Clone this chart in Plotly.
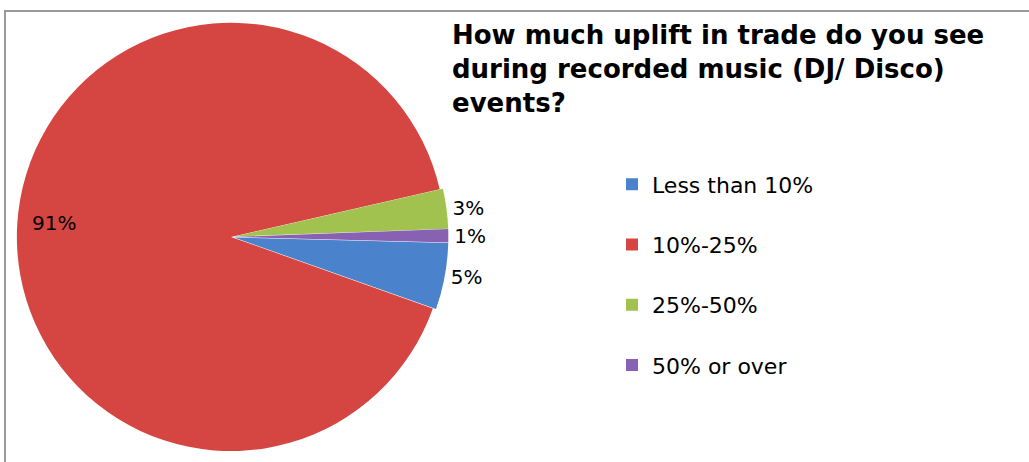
import math
import plotly.graph_objects as go

# survey answers (share of respondents, %)
labels = ["Less than 10%", "10%-25%", "25%-50%", "50% or over"]
values = [5, 91, 3, 1]
colors = ["#4A82CB", "#D54642", "#A2C250", "#8961B2"]
title_text = "How much uplift in trade do you see<br>during recorded music (DJ/ Disco)<br>events?"

W, H = 1029, 462
FONT = "DejaVu Sans, Verdana, sans-serif"

# pie placement (pixels from the top-left corner)
cx, cy, r = 231, 239, 216
pull = [0.015, 0, 0.015, 0.015]
half = r * (1 + max(pull))
rotation = 91.5

fig = go.Figure()
fig.add_trace(go.Pie(
    labels=[l + "<br> " for l in labels],   # blank second line spreads the legend rows
    values=values,
    sort=False,
    direction="clockwise",
    rotation=rotation,
    pull=pull,
    marker=dict(colors=colors, line=dict(width=0)),
    texttemplate="%{percent:.0%}",
    textposition=["outside", "none", "outside", "outside"],
    outsidetextfont=dict(family=FONT, size=20, color="#000000"),
    domain=dict(x=[(cx - half) / W, (cx + half) / W],
                y=[1 - (cy + half) / H, 1 - (cy - half) / H]),
    hoverinfo="label+percent",
))

# label of the big slice: put it near the rim, on the slice's mid angle
total = sum(values)
start = rotation + 360 * sum(values[:1]) / total
mid = math.radians(start + 180 * values[1] / total)
f = 0.82
fig.add_annotation(
    text=f"{values[1] / total:.0%}",
    xref="paper", yref="paper", xanchor="center", yanchor="middle",
    x=(cx + f * r * math.sin(mid)) / W, y=1 - (cy - f * r * math.cos(mid) - 4) / H,
    showarrow=False, font=dict(family=FONT, size=20, color="#000000"),
)

# chart area border (only top and left are visible in the crop)
fig.add_shape(type="rect", xref="paper", yref="paper",
              x0=5 / W, x1=1.1, y0=-0.1, y1=1 - 11 / H,
              line=dict(color="#9A9A9A", width=2), layer="below")

fig.add_annotation(
    text="<b>" + title_text + "</b>",
    xref="paper", yref="paper", x=450 / W, y=1 - 18 / H,
    xanchor="left", yanchor="top", align="left", showarrow=False,
    font=dict(family=FONT, size=26, color="#000000"),
)

fig.update_layout(
    width=W, height=H,
    margin=dict(l=0, r=0, t=0, b=0),
    paper_bgcolor="white",
    plot_bgcolor="white",
    showlegend=True,
    legend=dict(
        x=612 / W, y=1 - 165 / H, xanchor="left", yanchor="top",
        valign="top",
        font=dict(family=FONT, size=22, color="#000000"),
        itemwidth=30,
    ),
)

fig.write_html("out.html", config={"displayModeBar": False},
               post_script="document.body.style.margin='0';")
